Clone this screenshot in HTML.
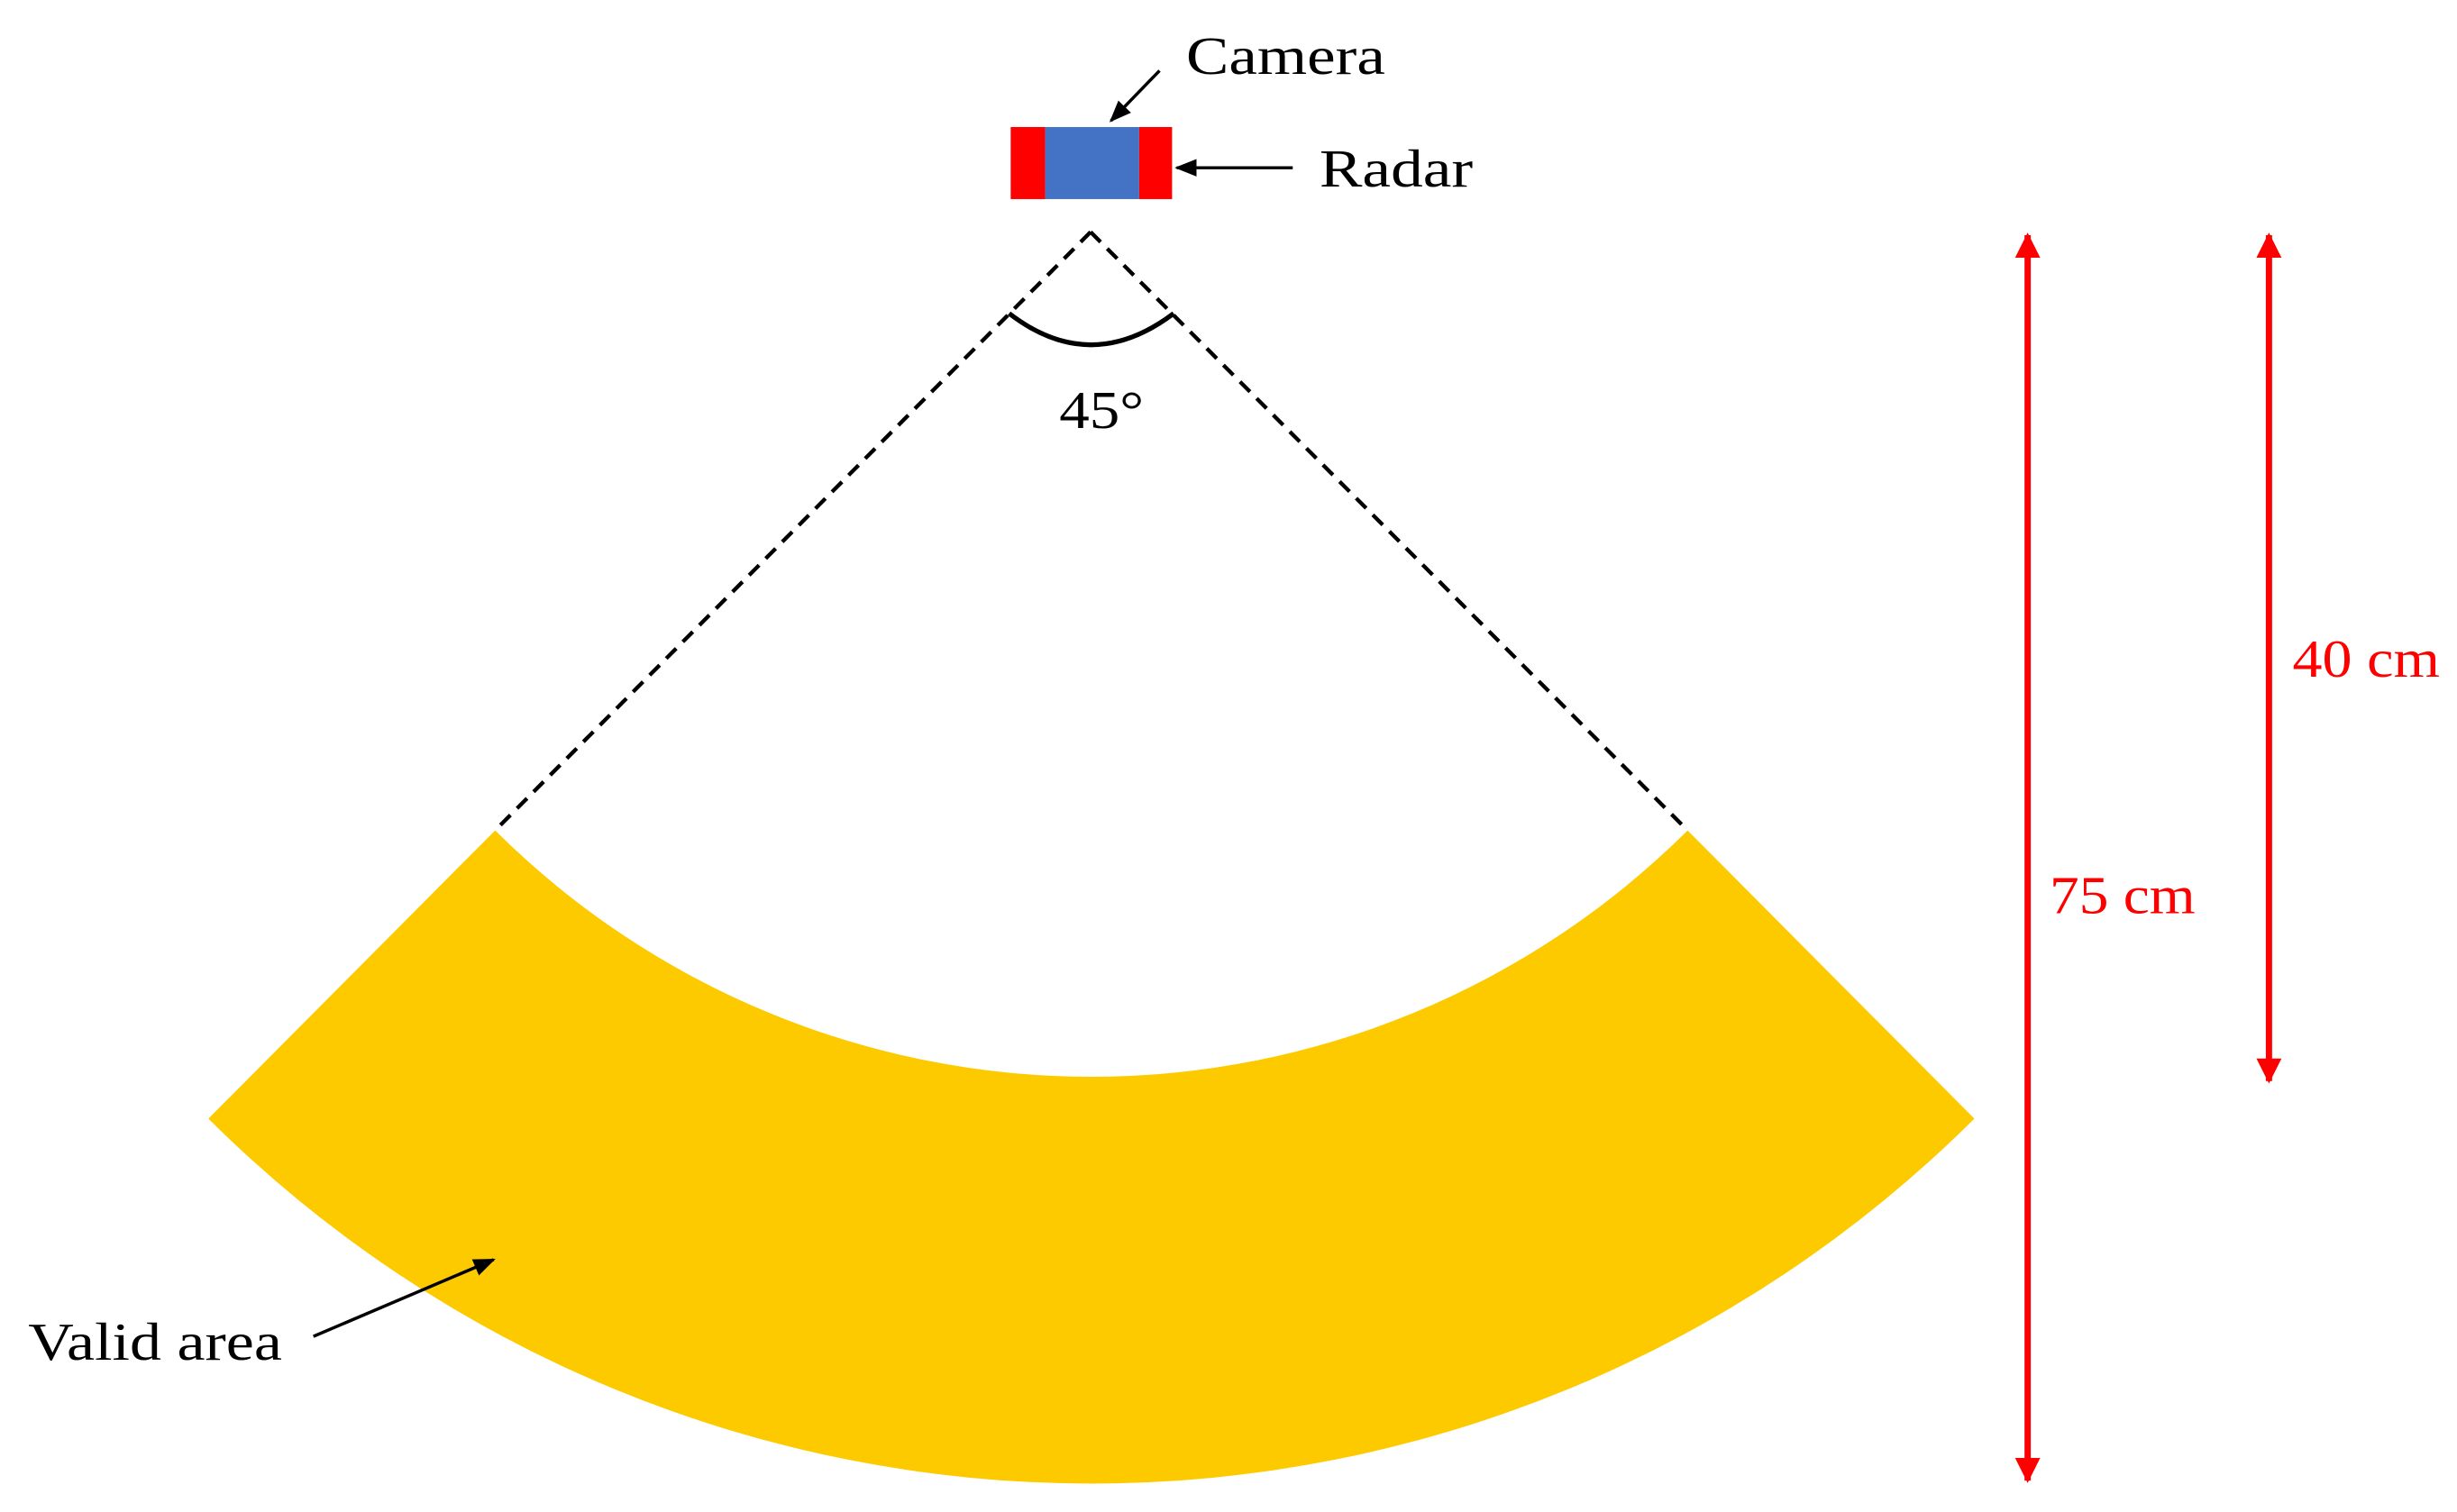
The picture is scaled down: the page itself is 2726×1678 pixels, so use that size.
<!DOCTYPE html>
<html><head><meta charset="utf-8"><style>html,body{margin:0;padding:0;background:#fff}svg{display:block}</style></head>
<body>
<svg width="2726" height="1678" viewBox="0 0 1568 965" xmlns="http://www.w3.org/2000/svg">
<defs>
<marker id="ab" viewBox="0 0 10 10" refX="9" refY="5" markerWidth="7" markerHeight="7" orient="auto-start-reverse"><path d="M0,1 L10,5 L0,9 z" fill="#000"/></marker>
<marker id="ar" viewBox="0 0 10 10" refX="9" refY="5" markerWidth="4" markerHeight="4" orient="auto-start-reverse"><path d="M0,0 L10,5 L0,10 z" fill="#f00"/></marker>
</defs>
<path d="M316,530 A539,539 0 0 0 1077,530 L1260,714 A798,798 0 0 1 133,714 Z" fill="#fdca00"/>
<line x1="696" y1="148" x2="316" y2="530" stroke="#000" stroke-width="2.5" stroke-dasharray="9,6"/>
<line x1="696" y1="148" x2="1077" y2="530" stroke="#000" stroke-width="2.5" stroke-dasharray="9,6"/>
<path d="M644,200 Q696,240 749,200" fill="none" stroke="#000" stroke-width="3"/>
<g font-family="Liberation Serif, serif" font-size="34" lengthAdjust="spacingAndGlyphs">
<text x="676" y="273" textLength="54" lengthAdjust="spacingAndGlyphs">45°</text>
<text x="757" y="47" textLength="127" lengthAdjust="spacingAndGlyphs">Camera</text>
<text x="842" y="119" textLength="98" lengthAdjust="spacingAndGlyphs">Radar</text>
<text x="18" y="868" textLength="162" lengthAdjust="spacingAndGlyphs">Valid area</text>
<text x="1308" y="583" fill="#f00" textLength="93" lengthAdjust="spacingAndGlyphs">75 cm</text>
<text x="1463" y="432" fill="#f00" textLength="94" lengthAdjust="spacingAndGlyphs">40 cm</text>
</g>
<rect x="645" y="81" width="22" height="46" fill="#f00"/>
<rect x="667" y="81" width="60" height="46" fill="#4472c4"/>
<rect x="727" y="81" width="21" height="46" fill="#f00"/>
<line x1="740" y1="45" x2="709" y2="77" stroke="#000" stroke-width="2" marker-end="url(#ab)"/>
<line x1="825" y1="107" x2="751" y2="107" stroke="#000" stroke-width="2" marker-end="url(#ab)"/>
<line x1="200" y1="853" x2="315" y2="804" stroke="#000" stroke-width="2" marker-end="url(#ab)"/>
<line x1="1294" y1="150" x2="1294" y2="945" stroke="#f00" stroke-width="4" marker-start="url(#ar)" marker-end="url(#ar)"/>
<line x1="1448" y1="150" x2="1448" y2="690" stroke="#f00" stroke-width="4" marker-start="url(#ar)" marker-end="url(#ar)"/>
</svg>
</body></html>
